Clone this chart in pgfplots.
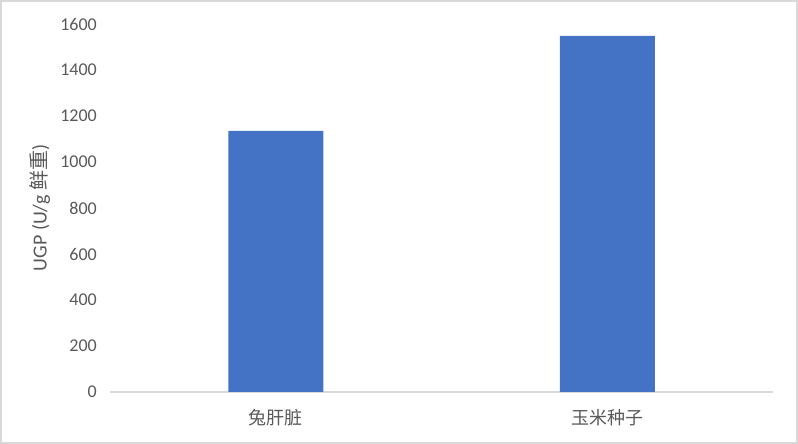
\documentclass[border=0pt]{standalone}
\usepackage{pgfplots}
\pgfplotsset{compat=1.18}
\usepackage{fontspec}
\setmainfont{Carlito}
\newfontfamily\cjk{Noto Sans CJK SC}
\definecolor{barblue}{HTML}{4472C4}
\definecolor{txtgray}{HTML}{595959}
\definecolor{linegray}{HTML}{D9D9D9}
\begin{document}
\begin{tikzpicture}
\useasboundingbox (0,0) rectangle (798bp,444bp);
\draw[linegray, line width=2bp] (1bp,1bp) rectangle (797bp,443bp);
\begin{axis}[
  at={(110bp,52bp)}, anchor=south west,
  scale only axis, width=663bp, height=368bp,
  xmin=-0.5, xmax=1.5, ymin=0, ymax=1600,
  enlargelimits=false,
  axis x line=bottom, axis y line=left,
  x axis line style={draw=linegray, line width=1.5bp, -},
  y axis line style={draw=none},
  major tick length=0pt,
  xtick={0,1}, xticklabels={兔肝脏,玉米种子},
  ytick={0,200,...,1600},
  /pgf/number format/1000 sep={},
  /pgf/number format/assume math mode=true,
  tick label style={font=\fontsize{18bp}{21bp}\selectfont, text=txtgray},
  yticklabel style={anchor=east, inner sep=0pt, xshift=-13bp},
  xticklabel style={font=\fontsize{18bp}{21bp}\selectfont\cjk, anchor=north, inner sep=0pt, yshift=-17bp},
  ylabel={UGP (U/g {\cjk 鲜重})},
  every axis y label/.style={at={(axis description cs:0,0.5)}, xshift=-70bp, rotate=90, anchor=center, font=\fontsize{20bp}{23bp}\selectfont, text=txtgray},
]
\addplot[ybar, bar width=95bp, fill=barblue, draw=none] coordinates {(0,1135) (1,1548)};
\end{axis}
\end{tikzpicture}
\end{document}
